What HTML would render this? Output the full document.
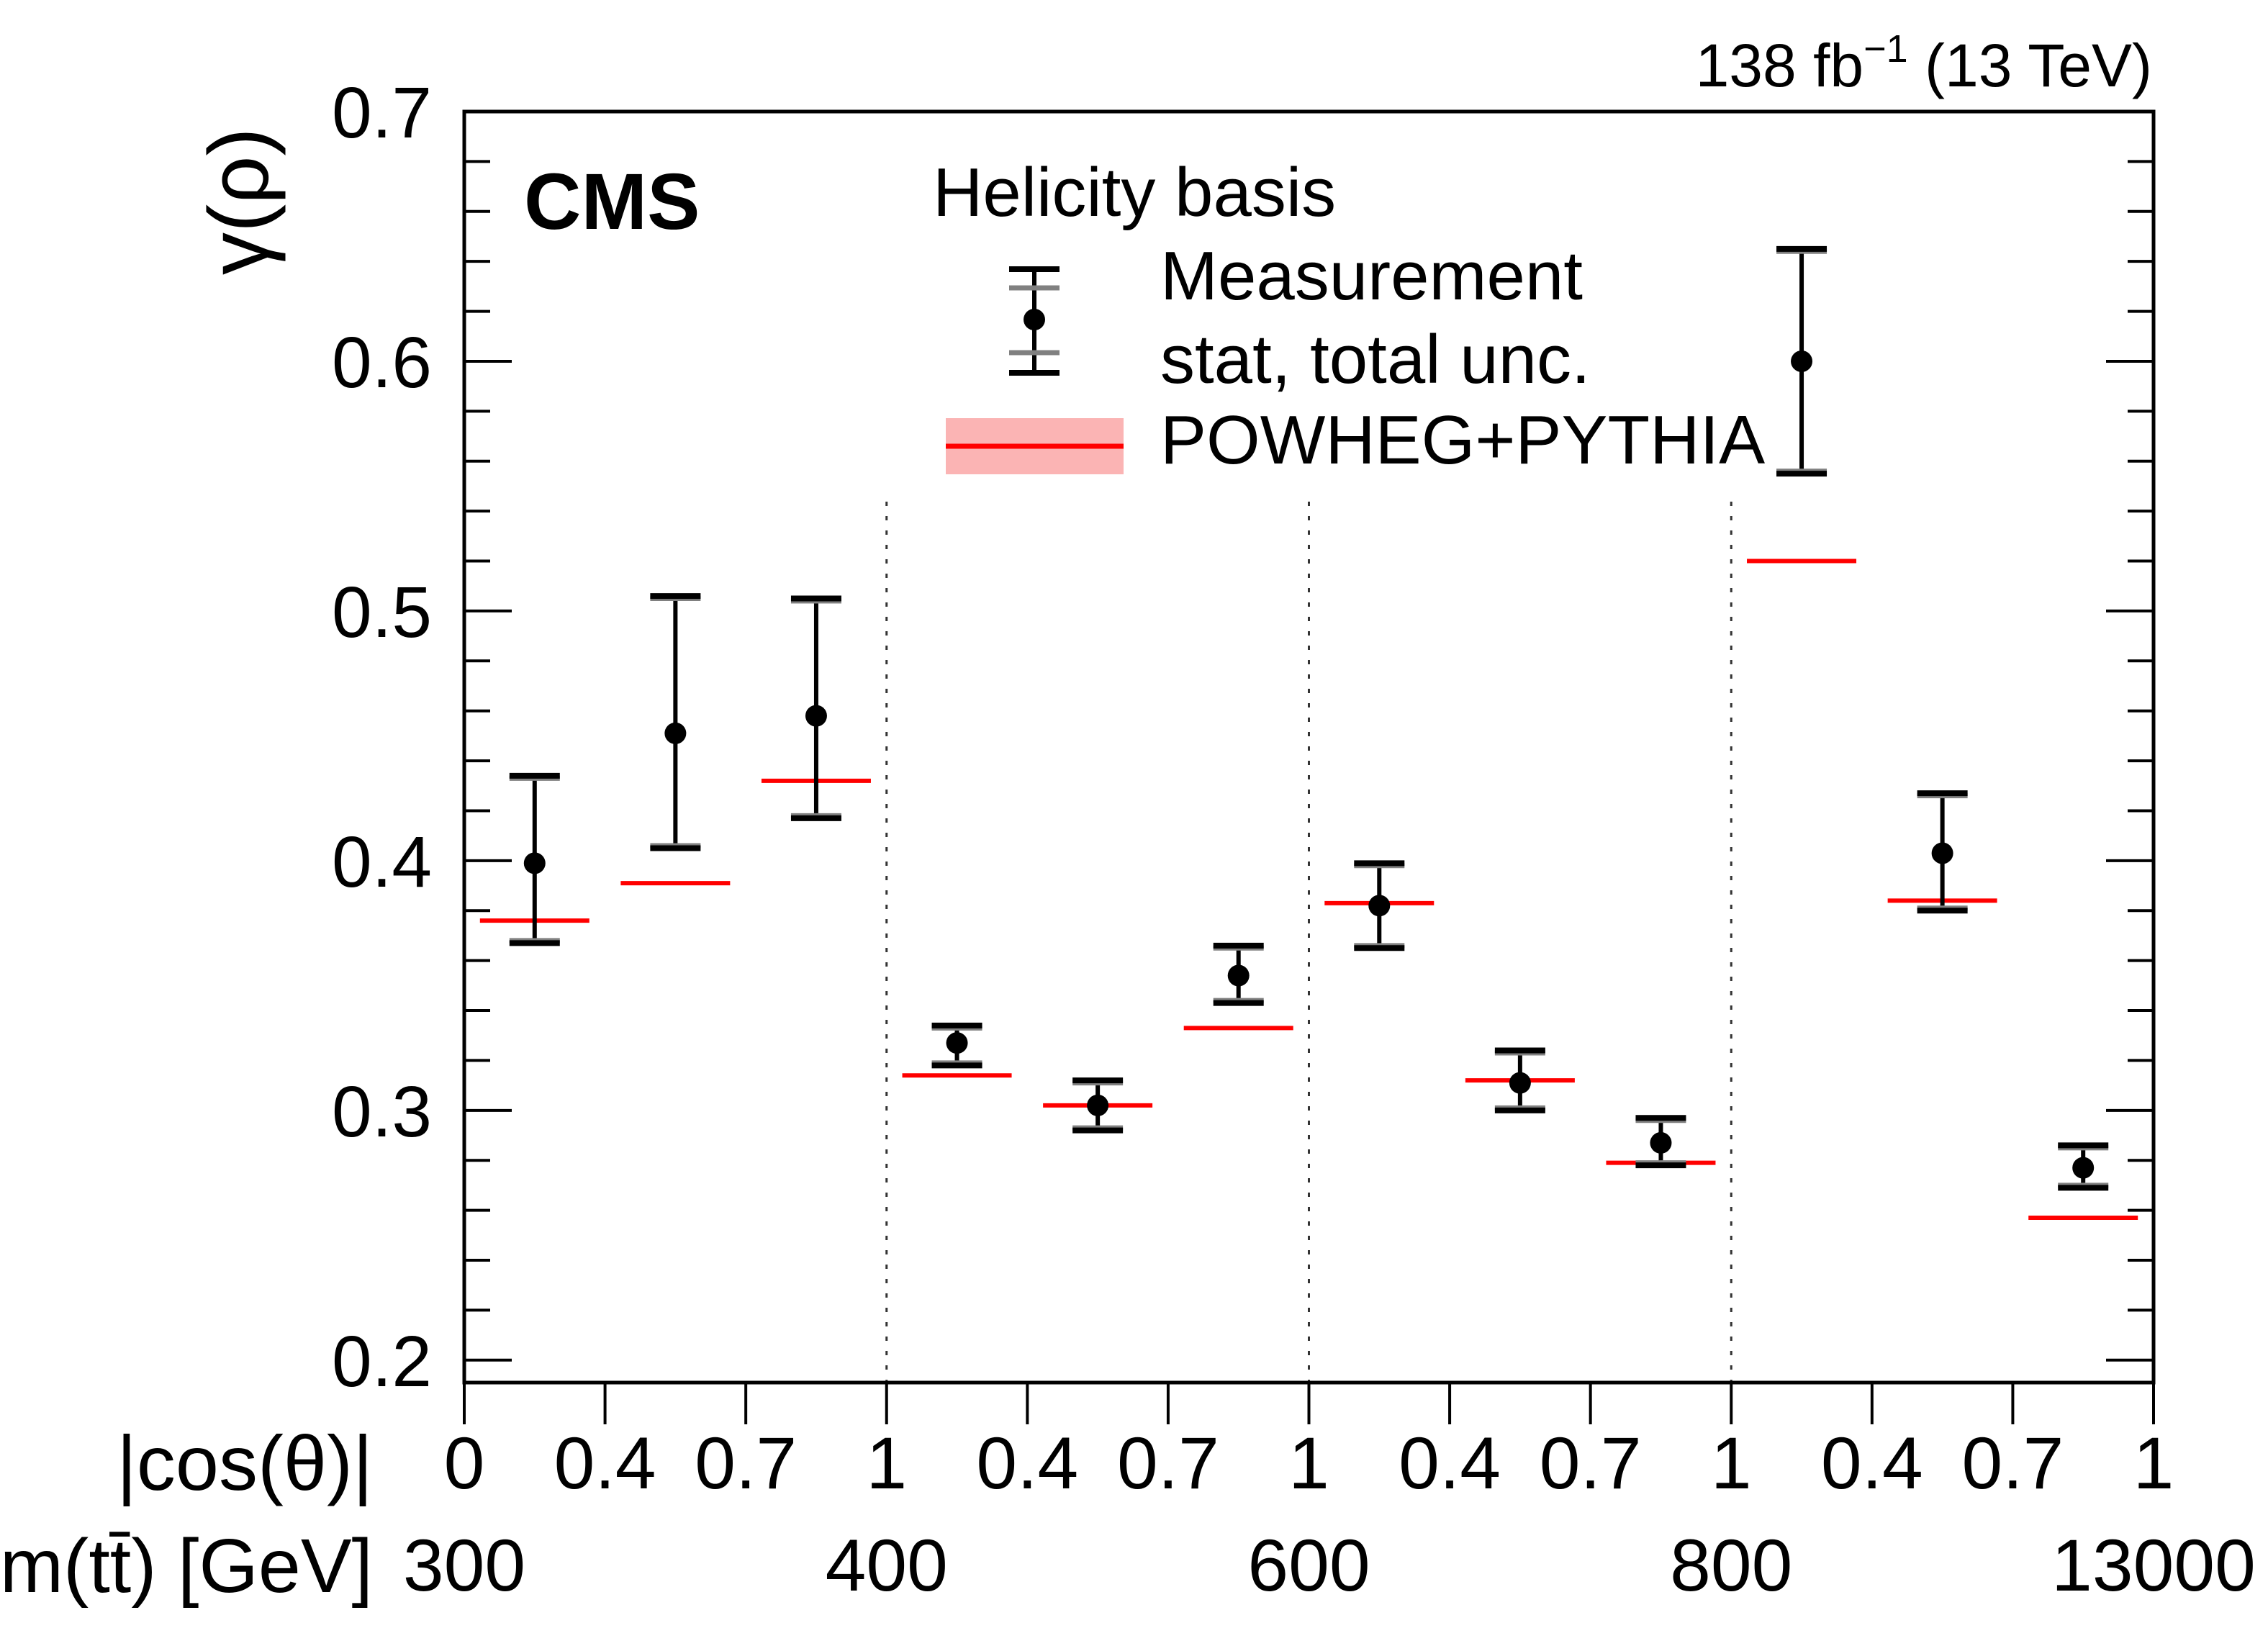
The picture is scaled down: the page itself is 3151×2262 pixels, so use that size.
<!DOCTYPE html>
<html><head><meta charset="utf-8"><style>
html,body{margin:0;padding:0;background:#fff;}
svg{display:block;font-family:"Liberation Sans",sans-serif;}
</style></head><body>
<svg id="chart" width="3151" height="2262" viewBox="0 0 3151 2262" xmlns="http://www.w3.org/2000/svg">
<rect x="0" y="0" width="3151" height="2262" fill="#fff"/>
<g id="marks"></g>
<g id="axes"></g>
<text x="2990" y="120" font-size="84" text-anchor="end">138 fb<tspan dy="-34" font-size="54">−1</tspan><tspan dy="34"> (13 TeV)</tspan></text>
<text x="728" y="318" font-size="110" font-weight="bold">CMS</text>
<text transform="translate(372,382) rotate(-90)" font-size="118">γ(ρ)</text>
<text x="1296" y="300" font-size="96">Helicity basis</text>
<g>
<line x1="1437" y1="374" x2="1437" y2="518" stroke="#000" stroke-width="6"/>
<line x1="1402" y1="400" x2="1472" y2="400" stroke="#808080" stroke-width="7"/>
<line x1="1402" y1="490" x2="1472" y2="490" stroke="#808080" stroke-width="7"/>
<line x1="1402" y1="374" x2="1472" y2="374" stroke="#000" stroke-width="8"/>
<line x1="1402" y1="518" x2="1472" y2="518" stroke="#000" stroke-width="8"/>
<circle cx="1437" cy="444" r="15" fill="#000"/>
<text x="1612" y="416" font-size="96">Measurement</text>
<text x="1612" y="532" font-size="96">stat, total unc.</text>
</g>
<g>
<rect x="1314" y="581" width="247" height="78" fill="#fbb4b4"/>
<line x1="1314" y1="620" x2="1561" y2="620" stroke="#ff0000" stroke-width="7"/>
<text x="1612" y="644" font-size="96">POWHEG+PYTHIA</text>
</g>
<text x="518" y="2070" font-size="108" text-anchor="end">|cos(θ)|</text>
<text x="518" y="2212" font-size="106" text-anchor="end">m(tt̄) [GeV]</text>
</svg>
<script>
const categories = ["300-400 0-0.4","300-400 0.4-0.7","300-400 0.7-1","400-600 0-0.4","400-600 0.4-0.7","400-600 0.7-1","600-800 0-0.4","600-800 0.4-0.7","600-800 0.7-1","800-13000 0-0.4","800-13000 0.4-0.7","800-13000 0.7-1"];
const measured = [0.399,0.451,0.458,0.327,0.302,0.354,0.382,0.311,0.287,0.600,0.403,0.277];
const totUp = [0.434,0.506,0.505,0.334,0.312,0.366,0.399,0.324,0.297,0.645,0.427,0.286];
const totDn = [0.367,0.405,0.417,0.318,0.292,0.343,0.365,0.300,0.278,0.555,0.380,0.269];
const statUp = [0.433,0.505,0.504,0.333,0.311,0.365,0.398,0.323,0.296,0.644,0.426,0.285];
const statDn = [0.368,0.406,0.418,0.319,0.293,0.344,0.366,0.301,0.279,0.556,0.381,0.270];
const powheg = [0.376,0.391,0.432,0.314,0.302,0.333,0.383,0.312,0.279,0.520,0.384,0.257];
const yTicks = [0.2,0.3,0.4,0.5,0.6,0.7];
const cosLabels = ["0","0.4","0.7","1","0.4","0.7","1","0.4","0.7","1","0.4","0.7","1"];
const mttLabels = ["300","400","600","800","13000"];

const NS="http://www.w3.org/2000/svg";
const L=645,R=2992,T=155,B=1921,Y0=0.191,Y1=0.7;
const nb=categories.length, bw=(R-L)/nb;
const xb=i=>L+i*bw;
const xc=i=>L+(i+0.5)*bw;
const ys=v=>B-(v-Y0)/(Y1-Y0)*(B-T);
function mk(tag,attrs,parent){const e=document.createElementNS(NS,tag);for(const k in attrs)e.setAttribute(k,attrs[k]);parent.appendChild(e);return e;}
const marks=document.getElementById('marks'), axes=document.getElementById('axes');

for(let k=1;k<4;k++){
  const ln=mk('line',{x1:xb(3*k),x2:xb(3*k),y1:697,y2:B,stroke:'#333','stroke-width':3,'stroke-dasharray':'6 14'},marks);
  
  
}
powheg.forEach((v,i)=>{
  const ln=mk('line',{x1:xc(i)-76,x2:xc(i)+76,y1:ys(v),y2:ys(v),stroke:'#ff0000','stroke-width':6},marks);
  
  
});
measured.forEach((v,i)=>{
  const g=mk('g',{},marks);
  
  
  const x=xc(i);
  mk('line',{x1:x,x2:x,y1:ys(totUp[i]),y2:ys(totDn[i]),stroke:'#000','stroke-width':6},g);
  [statUp[i],statDn[i]].forEach(s=>mk('line',{x1:x-35,x2:x+35,y1:ys(s),y2:ys(s),stroke:'#808080','stroke-width':7},g));
  [totUp[i],totDn[i]].forEach(s=>mk('line',{x1:x-35,x2:x+35,y1:ys(s),y2:ys(s),stroke:'#000','stroke-width':8},g));
  mk('circle',{cx:x,cy:ys(v),r:15,fill:'#000'},g);
});
const fr=mk('rect',{x:L,y:T,width:R-L,height:B-T,fill:'none',stroke:'#000','stroke-width':5},axes);


for(let v=0.2;v<=0.7001;v+=0.02){
  const major=Math.abs(v*10-Math.round(v*10))<1e-6;
  const len=major?66:36;
  mk('line',{x1:L,x2:L+len,y1:ys(v),y2:ys(v),stroke:'#000','stroke-width':4},axes);
  mk('line',{x1:R,x2:R-len,y1:ys(v),y2:ys(v),stroke:'#000','stroke-width':4},axes);
}
yTicks.forEach(v=>{
  const t=mk('text',{x:L-45,y:ys(v)+36,'font-size':100,'text-anchor':'end'},axes);
  t.textContent=v.toFixed(1);
  
  
});
for(let i=0;i<=nb;i++){
  mk('line',{x1:xb(i),x2:xb(i),y1:B,y2:B+58,stroke:'#000','stroke-width':4},axes);
  const t=mk('text',{x:xb(i),y:2068,'font-size':102,'text-anchor':'middle'},axes);
  t.textContent=cosLabels[i];
  
  
}
mttLabels.forEach((s,k)=>{
  const t=mk('text',{x:xb(3*k),y:2210,'font-size':102,'text-anchor':'middle'},axes);
  t.textContent=s;
  
  
});
</script>
</body></html>
